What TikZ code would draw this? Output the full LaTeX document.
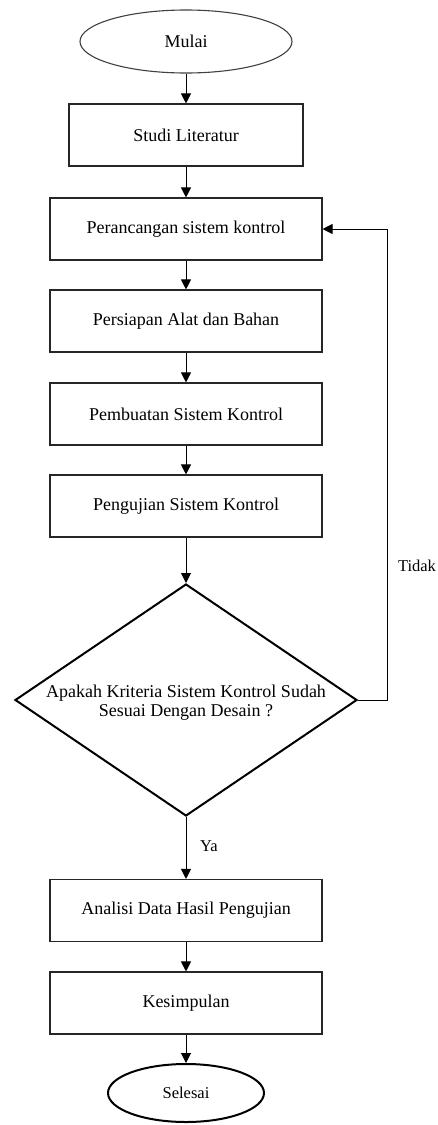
\documentclass[tikz,border=0pt]{standalone}
\usepackage{fontspec}
\setmainfont{Liberation Serif}
\usetikzlibrary{shapes.geometric,arrows.meta}

\begin{document}
\begin{tikzpicture}[x=1pt,y=-1pt,
    font=\fontsize{18}{19}\selectfont,
    proses/.style={draw=black!85,line width=1.1pt,minimum width=272pt,minimum height=62pt,inner sep=0pt},
    terminal/.style={draw,ellipse,inner sep=0pt},
    keputusan/.style={draw,diamond,line width=2pt,minimum width=342pt,minimum height=232pt,inner sep=0pt},
    panah/.style={-{Triangle[length=10pt,width=10pt]},line width=1pt}]
  \useasboundingbox (0,0) rectangle (438,1125);
  \node[terminal,draw=black!75,line width=1.1pt,minimum width=212pt,minimum height=63pt] (mulai) at (186,41.5) {Mulai};
  \node[proses,minimum width=234pt] (studi) at (186,135) {Studi Literatur};
  \node[proses] (rancang) at (186,229) {Perancangan sistem kontrol};
  \node[proses] (siap) at (186,321) {Persiapan Alat dan Bahan};
  \node[proses] (buat) at (186,414) {Pembuatan Sistem Kontrol};
  \node[proses] (uji) at (186,506) {Pengujian Sistem Kontrol};
  \node[keputusan,label={[align=center,yshift=-2.5pt]center:Apakah Kriteria Sistem Kontrol Sudah\\Sesuai Dengan Desain ?}] (cek) at (186,700) {};
  \node[proses] (analisa) at (186,910.5) {Analisi Data Hasil Pengujian};
  \node[proses] (simpul) at (186,1003) {Kesimpulan};
  \node[terminal,line width=2pt,minimum width=156pt,minimum height=58pt,font=\fontsize{16.5}{18}\selectfont] (selesai) at (186,1093) {Selesai};
  \coordinate (balik) at (387,700);
  \node[font=\fontsize{16.5}{18}\selectfont] (tidak) at (417,566) {Tidak};
  \node[font=\fontsize{16.5}{18}\selectfont] (ya) at (209,846) {Ya};

  \draw[panah] (mulai) -- (studi);
  \draw[panah] (studi) -- (rancang);
  \draw[panah] (rancang) -- (siap);
  \draw[panah] (siap) -- (buat);
  \draw[panah] (buat) -- (uji);
  \draw[panah] (uji) -- (cek);
  \draw[panah] (cek) -- (analisa);
  \draw[panah] (analisa) -- (simpul);
  \draw[panah] (simpul) -- (selesai);
  \draw[panah] (cek.east) -- (balik) |- (rancang.east);
\end{tikzpicture}
\end{document}
